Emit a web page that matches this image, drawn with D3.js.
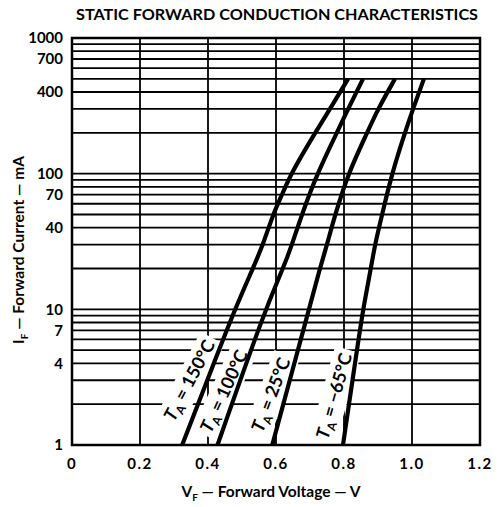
<!DOCTYPE html>
<html><head><meta charset="utf-8">
<script src="https://cdn.jsdelivr.net/npm/d3@7"></script>
<style>
html,body{margin:0;padding:0;background:#fff;}
svg{display:block;font-family:Lato,"DejaVu Sans",sans-serif;}
</style></head>
<body><svg id="c" width="503" height="507"></svg>
<script>
// ---- data ----
const xTicks = [0, 0.2, 0.4, 0.6, 0.8, 1.0, 1.2];
const xTickLabels = ["0", "0.2", "0.4", "0.6", "0.8", "1.0", "1.2"];
const yTicks = [1, 4, 7, 10, 40, 70, 100, 400, 700, 1000];
const yTickLabels = ["1", "4", "7", "10", "40", "70", "100", "400", "700", "1000"];
const temps = ["150°C", "100°C", "25°C", "−65°C"];
const currents150 = [1, 4, 10, 20, 30, 50, 70, 100, 200, 300, 500];
const volts150    = [0.324, 0.417, 0.479, 0.532, 0.562, 0.591, 0.618, 0.644, 0.715, 0.759, 0.812];
const currents100 = [1, 10, 20, 30, 50, 100, 200, 300, 500];
const volts100    = [0.428, 0.568, 0.621, 0.647, 0.676, 0.721, 0.779, 0.812, 0.856];
const currents25  = [1, 10, 20, 30, 50, 100, 200, 300, 500];
const volts25     = [0.589, 0.697, 0.729, 0.750, 0.774, 0.812, 0.868, 0.900, 0.950];
const currentsM65 = [1, 5, 10, 20, 30, 50, 100, 200, 300, 500];
const voltsM65    = [0.797, 0.838, 0.856, 0.879, 0.891, 0.912, 0.941, 0.979, 1.003, 1.035];
const labelV = [0.345, 0.447, 0.585, 0.771];
const labelI = [3.0, 2.5, 2.35, 2.3];

const series = [
  {I: currents150, V: volts150},
  {I: currents100, V: volts100},
  {I: currents25, V: volts25},
  {I: currentsM65, V: voltsM65}
];
const labelAngles = [-62, -65, -69, -74];

// ---- layout ----
const svg = d3.select("#c");
const x = d3.scaleLinear().domain([0, 1.2]).range([72, 480]);
const y = d3.scaleLog().domain([1, 1000]).range([445, 38]);

// title
svg.append("text").attr("x", 277).attr("y", 20).attr("text-anchor", "middle")
  .attr("font-size", 15.5).attr("font-weight", 700)
  .attr("textLength", 402).attr("lengthAdjust", "spacingAndGlyphs")
  .text("STATIC FORWARD CONDUCTION CHARACTERISTICS");

// grid
const g = svg.append("g");
const hLines = [];
for (let d = 1; d < 1000; d *= 10) for (let k = 1; k <= 9; k++) hLines.push(d * k);
hLines.push(1000);
g.selectAll("line.h").data(hLines).join("line")
  .attr("x1", x(0)).attr("x2", x(1.2))
  .attr("y1", d => y(d)).attr("y2", d => y(d))
  .attr("stroke", "#000").attr("stroke-width", 1.8);
g.selectAll("line.v").data(xTicks).join("line")
  .attr("y1", y(1)).attr("y2", y(1000))
  .attr("x1", d => x(d)).attr("x2", d => x(d))
  .attr("stroke", "#000").attr("stroke-width", 1.8);

// labels background + text
const lbl = svg.append("g");
temps.forEach((t, i) => {
  const cx = x(labelV[i]), cy = y(labelI[i]);
  const gg = lbl.append("g").attr("transform", `translate(${cx},${cy}) rotate(${labelAngles[i]})`);
  const tx = gg.append("text").attr("text-anchor", "middle").attr("dy", "0.35em")
    .attr("font-size", 18).attr("font-weight", 700);
  tx.append("tspan").attr("font-style", "italic").text("T");
  tx.append("tspan").attr("font-size", 12).attr("dy", 4).text("A");
  tx.append("tspan").attr("dy", -4).text(" = " + t);
  const bb = tx.node().getBBox();
  gg.insert("rect", "text").attr("x", bb.x - 4).attr("y", bb.y - 1)
    .attr("width", bb.width + 8).attr("height", bb.height + 2).attr("fill", "#fff");
});

// curves
const line = d3.line().x(d => x(d[0])).y(d => y(d[1])).curve(d3.curveBasis);
svg.append("g").selectAll("path").data(series).join("path")
  .attr("d", s => line(s.V.map((v, j) => [v, s.I[j]])))
  .attr("fill", "none").attr("stroke", "#000").attr("stroke-width", 4.2)
  .attr("stroke-linecap", "butt");

// border
svg.append("rect").attr("x", x(0)).attr("y", y(1000))
  .attr("width", x(1.2) - x(0)).attr("height", y(1) - y(1000))
  .attr("fill", "none").attr("stroke", "#000").attr("stroke-width", 2.5);

// y tick labels
svg.append("g").selectAll("text").data(yTicks).join("text")
  .attr("x", 63).attr("y", d => y(d)).attr("dy", "0.35em").attr("text-anchor", "end")
  .attr("font-size", 15).attr("font-weight", 700)
  .text((d, i) => yTickLabels[i]);

// x tick labels
svg.append("g").selectAll("text").data(xTicks).join("text")
  .attr("x", d => x(d)).attr("y", 469).attr("text-anchor", "middle")
  .attr("font-size", 15).attr("font-weight", 700).attr("letter-spacing", 1.5)
  .text((d, i) => xTickLabels[i]);

// x axis title
const xt = svg.append("text").attr("x", 271).attr("y", 497).attr("text-anchor", "middle")
  .attr("font-size", 15.5).attr("font-weight", 700);
xt.append("tspan").text("V");
xt.append("tspan").attr("font-size", 10).attr("dy", 4).text("F");
xt.append("tspan").attr("dy", -4).text(" — Forward Voltage — V");

// y axis title
const yt = svg.append("text").attr("transform", "translate(24,250) rotate(-90)")
  .attr("text-anchor", "middle").attr("font-size", 15.5).attr("font-weight", 700);
yt.append("tspan").text("I");
yt.append("tspan").attr("font-size", 10).attr("dy", 4).text("F");
yt.append("tspan").attr("dy", -4).text(" — Forward Current — mA");
</script>
</body></html>
